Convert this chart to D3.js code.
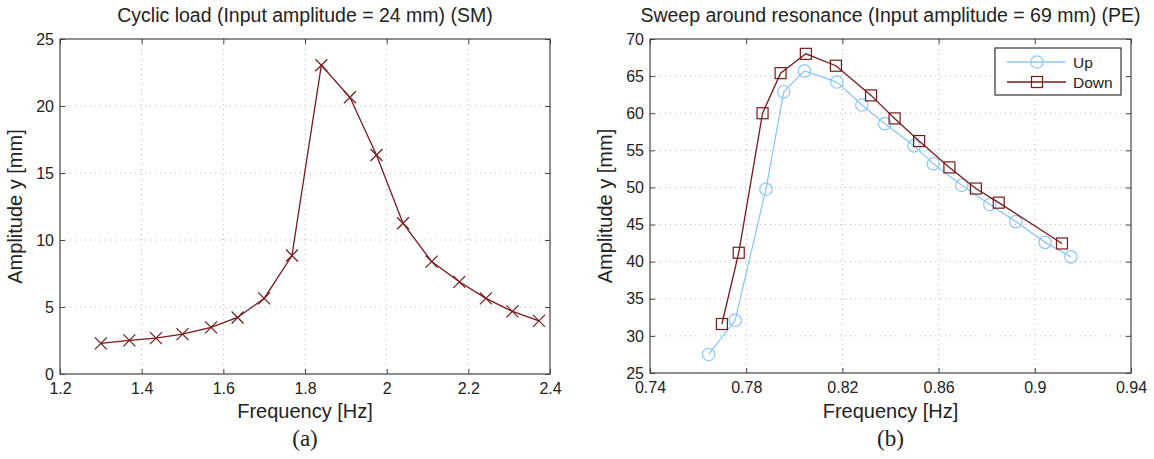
<!DOCTYPE html>
<html>
<head>
<meta charset="utf-8">
<script src="https://cdn.jsdelivr.net/npm/d3@7"></script>
<style>
  body { margin: 0; background: #fff; }
  svg text { font-family: "Liberation Sans", Arial, sans-serif; fill: #222; }
</style>
</head>
<body>
<svg id="chart" width="1154" height="459"></svg>
<script>
// (a) cyclic load, SM
const freqA = [1.30, 1.37, 1.435, 1.50, 1.57, 1.635, 1.70, 1.768, 1.84, 1.91, 1.975, 2.04, 2.11, 2.178, 2.243, 2.308, 2.373]
const ampA = [2.28, 2.51, 2.68, 2.98, 3.48, 4.22, 5.64, 8.84, 23.04, 20.65, 16.34, 11.25, 8.39, 6.88, 5.64, 4.67, 3.97]
const xTicksA = [1.2, 1.4, 1.6, 1.8, 2, 2.2, 2.4]
const yTicksA = [0, 5, 10, 15, 20, 25]

// (b) sweep around resonance, PE
const freqUp = [0.7644, 0.7754, 0.7882, 0.7956, 0.8042, 0.8177, 0.8281, 0.8376, 0.8498, 0.8578, 0.8696, 0.8813, 0.8921, 0.9043, 0.915]
const ampUp = [27.5, 32.1, 49.75, 62.9, 65.7, 64.2, 61.1, 58.6, 55.6, 53.2, 50.3, 47.7, 45.4, 42.6, 40.65]
const freqDown = [0.7699, 0.7769, 0.7868, 0.7943, 0.8048, 0.8173, 0.8319, 0.8417, 0.8519, 0.8645, 0.8755, 0.885, 0.9113]
const ampDown = [31.6, 41.2, 60.0, 65.4, 68.0, 66.4, 62.4, 59.3, 56.25, 52.7, 49.85, 47.95, 42.45]
const xTicksB = [0.74, 0.78, 0.82, 0.86, 0.9, 0.94]
const yTicksB = [25, 30, 35, 40, 45, 50, 55, 60, 65, 70]

const RED = '#761a1a'
const BLUE = '#8cc6fb'
const TICK = 5

const svg = d3.select('#chart')

function drawPanel(opt) {
  const g = svg.append('g')
  const x = d3.scaleLinear().domain(opt.xDomain).range([opt.left, opt.right])
  const y = d3.scaleLinear().domain(opt.yDomain).range([opt.bottom, opt.top])

  // dotted grid
  g.append('g').selectAll('line')
    .data(opt.xTicks.slice(1, -1))
    .join('line')
    .attr('x1', (d) => x(d)).attr('x2', (d) => x(d))
    .attr('y1', opt.top).attr('y2', opt.bottom)
    .attr('stroke', '#b8b8b8').attr('stroke-dasharray', '1,4')
  g.append('g').selectAll('line')
    .data(opt.yTicks.slice(1, -1))
    .join('line')
    .attr('y1', (d) => y(d)).attr('y2', (d) => y(d))
    .attr('x1', opt.left).attr('x2', opt.right)
    .attr('stroke', '#b8b8b8').attr('stroke-dasharray', '1,4')

  // axes with inward ticks on all four sides
  const fmt = (d) => String(d)
  const axB = g.append('g').attr('transform', `translate(0,${opt.bottom})`)
    .call(d3.axisBottom(x).tickValues(opt.xTicks).tickFormat(fmt).tickSizeInner(-TICK).tickSizeOuter(0).tickPadding(9))
  const axT = g.append('g').attr('transform', `translate(0,${opt.top})`)
    .call(d3.axisTop(x).tickValues(opt.xTicks).tickFormat('').tickSizeInner(-TICK).tickSizeOuter(0))
  const axL = g.append('g').attr('transform', `translate(${opt.left},0)`)
    .call(d3.axisLeft(y).tickValues(opt.yTicks).tickFormat(fmt).tickSizeInner(-TICK).tickSizeOuter(0).tickPadding(6))
  const axR = g.append('g').attr('transform', `translate(${opt.right},0)`)
    .call(d3.axisRight(y).tickValues(opt.yTicks).tickFormat('').tickSizeInner(-TICK).tickSizeOuter(0))
  ;[axB, axT, axL, axR].forEach((a) => {
    a.select('.domain').remove()
    a.selectAll('line').attr('stroke', '#444')
    a.selectAll('text').attr('font-size', 16).attr('fill', '#222')
      .attr('font-family', '"Liberation Sans", Arial, sans-serif')
  })

  g.append('rect')
    .attr('x', opt.left).attr('y', opt.top)
    .attr('width', opt.right - opt.left).attr('height', opt.bottom - opt.top)
    .attr('fill', 'none').attr('stroke', '#444').attr('stroke-width', 1.2)

  // labels
  const cx = (opt.left + opt.right) / 2
  g.append('text').attr('x', cx).attr('y', 22).attr('text-anchor', 'middle')
    .attr('font-size', 19.5).text(opt.title)
  g.append('text').attr('x', cx).attr('y', 418).attr('text-anchor', 'middle')
    .attr('font-size', 20).text('Frequency [Hz]')
  g.append('text')
    .attr('transform', `translate(${opt.left - 38},${(opt.top + opt.bottom) / 2}) rotate(-90)`)
    .attr('text-anchor', 'middle').attr('font-size', 20).text('Amplitude y [mm]')
  g.append('text').attr('x', cx).attr('y', 446).attr('text-anchor', 'middle')
    .attr('font-size', 23).style('font-family', '"Liberation Serif", "Times New Roman", serif')
    .text(opt.caption)

  return { g, x, y }
}

function drawSeries(p, xs, ys, color, marker) {
  const pts = xs.map((v, i) => [p.x(v), p.y(ys[i])])
  p.g.append('path').attr('d', d3.line()(pts))
    .attr('fill', 'none').attr('stroke', color).attr('stroke-width', 1.3)
  drawMarkers(p.g, pts, color, marker)
}

function drawMarkers(g, pts, color, marker) {
  const m = g.append('g').attr('fill', 'none').attr('stroke', color).attr('stroke-width', 1.2)
  pts.forEach(([px, py]) => {
    if (marker === 'x') {
      m.append('path').attr('d', `M${px - 6},${py - 6}L${px + 6},${py + 6}M${px - 6},${py + 6}L${px + 6},${py - 6}`)
    } else if (marker === 'o') {
      m.append('circle').attr('cx', px).attr('cy', py).attr('r', 6.2)
    } else {
      m.append('rect').attr('x', px - 5.5).attr('y', py - 5.5).attr('width', 11).attr('height', 11)
    }
  })
}

const pa = drawPanel({
  left: 60, right: 550, top: 39, bottom: 374,
  xDomain: [1.2, 2.4], yDomain: [0, 25], xTicks: xTicksA, yTicks: yTicksA,
  title: 'Cyclic load (Input amplitude = 24 mm) (SM)', caption: '(a)'
})
drawSeries(pa, freqA, ampA, RED, 'x')

const pb = drawPanel({
  left: 650, right: 1131, top: 39, bottom: 373,
  xDomain: [0.74, 0.94], yDomain: [25, 70], xTicks: xTicksB, yTicks: yTicksB,
  title: 'Sweep around resonance (Input amplitude = 69 mm) (PE)', caption: '(b)'
})
drawSeries(pb, freqUp, ampUp, BLUE, 'o')
drawSeries(pb, freqDown, ampDown, RED, 's')

// legend
const lg = pb.g.append('g')
lg.append('rect').attr('x', 995).attr('y', 48).attr('width', 126).attr('height', 47)
  .attr('fill', '#fff').attr('stroke', '#333').attr('stroke-width', 1.2)
const legendItems = [
  { name: 'Up', color: BLUE, marker: 'o', y: 62 },
  { name: 'Down', color: RED, marker: 's', y: 82 }
]
legendItems.forEach((it) => {
  lg.append('line').attr('x1', 1007).attr('x2', 1066).attr('y1', it.y).attr('y2', it.y)
    .attr('stroke', it.color).attr('stroke-width', 1.3)
  drawMarkers(lg, [[1037, it.y]], it.color, it.marker)
  lg.append('text').attr('x', 1073).attr('y', it.y + 5.5).attr('font-size', 15.5).text(it.name)
})
</script>
</body>
</html>
